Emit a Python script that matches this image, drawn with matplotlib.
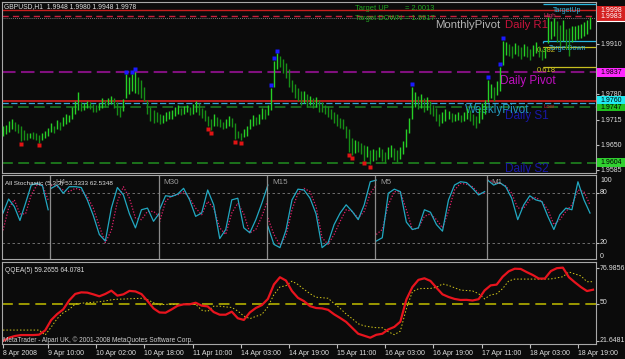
import numpy as np
import matplotlib
matplotlib.use('Agg')
import matplotlib.pyplot as plt
import matplotlib.transforms as mtransforms
from matplotlib.patches import Rectangle

plt.rcParams['font.family'] = ['Liberation Sans', 'DejaVu Sans']

W, H = 625, 359
BG = '#0b0b0b'

# ---- GBPUSD H1 bars (high / low), 8 Apr 19:00 .. 18 Apr 21:00 ----
high = [1.9700, 1.9702, 1.9712, 1.9716, 1.9708, 1.9704, 1.9700, 1.9688, 1.9680, 1.9682,
        1.9684, 1.9680, 1.9676, 1.9682, 1.9686, 1.9694, 1.9706, 1.9700, 1.9714, 1.9708,
        1.9722, 1.9730, 1.9726, 1.9748, 1.9762, 1.9786, 1.9760, 1.9758, 1.9764, 1.9760,
        1.9756, 1.9752, 1.9758, 1.9770, 1.9766, 1.9772, 1.9776, 1.9770, 1.9760, 1.9750,
        1.9768, 1.9832, 1.9824, 1.9832, 1.9838, 1.9824, 1.9818, 1.9800, 1.9766, 1.9748,
        1.9740, 1.9736, 1.9730, 1.9728, 1.9734, 1.9738, 1.9740, 1.9748, 1.9752, 1.9746,
        1.9750, 1.9754, 1.9748, 1.9756, 1.9762, 1.9758, 1.9746, 1.9740, 1.9724, 1.9716,
        1.9730, 1.9722, 1.9718, 1.9710, 1.9718, 1.9724, 1.9720, 1.9706, 1.9686, 1.9680,
        1.9690, 1.9700, 1.9716, 1.9726, 1.9722, 1.9730, 1.9746, 1.9742, 1.9752, 1.9796,
        1.9866, 1.9886, 1.9878, 1.9872, 1.9862, 1.9846, 1.9818, 1.9806, 1.9796, 1.9788,
        1.9790, 1.9780, 1.9776, 1.9770, 1.9774, 1.9766, 1.9760, 1.9754, 1.9750, 1.9742,
        1.9736, 1.9730, 1.9720, 1.9716, 1.9700, 1.9690, 1.9668, 1.9664, 1.9660, 1.9656,
        1.9650, 1.9648, 1.9636, 1.9640, 1.9636, 1.9646, 1.9640, 1.9632, 1.9644, 1.9650,
        1.9642, 1.9636, 1.9646, 1.9660, 1.9690, 1.9720, 1.9800, 1.9786, 1.9776, 1.9782,
        1.9770, 1.9774, 1.9762, 1.9752, 1.9746, 1.9730, 1.9734, 1.9742, 1.9738, 1.9732,
        1.9730, 1.9734, 1.9728, 1.9736, 1.9744, 1.9740, 1.9730, 1.9724, 1.9744, 1.9758,
        1.9766, 1.9818, 1.9808, 1.9800, 1.9814, 1.9852, 1.9918, 1.9916, 1.9910, 1.9906,
        1.9912, 1.9908, 1.9902, 1.9910, 1.9904, 1.9898, 1.9908, 1.9914, 1.9904, 1.9896,
        1.9902, 1.9980, 1.9970, 1.9976, 1.9968, 1.9960, 1.9972, 1.9948, 1.9950, 1.9956,
        1.9956, 1.9958, 1.9962, 1.9966, 1.9972, 1.9980]
low = [1.9672, 1.9678, 1.9684, 1.9690, 1.9685, 1.9680, 1.9660, 1.9664, 1.9664, 1.9668,
       1.9666, 1.9662, 1.9656, 1.9664, 1.9668, 1.9672, 1.9684, 1.9680, 1.9690, 1.9688,
       1.9698, 1.9704, 1.9708, 1.9718, 1.9730, 1.9740, 1.9738, 1.9740, 1.9744, 1.9742,
       1.9736, 1.9734, 1.9740, 1.9746, 1.9748, 1.9752, 1.9756, 1.9744, 1.9728, 1.9722,
       1.9738, 1.9772, 1.9780, 1.9790, 1.9784, 1.9780, 1.9770, 1.9764, 1.9730, 1.9712,
       1.9706, 1.9708, 1.9704, 1.9706, 1.9712, 1.9716, 1.9718, 1.9724, 1.9730, 1.9728,
       1.9730, 1.9734, 1.9726, 1.9730, 1.9736, 1.9728, 1.9720, 1.9712, 1.9698, 1.9688,
       1.9700, 1.9700, 1.9696, 1.9690, 1.9694, 1.9700, 1.9696, 1.9666, 1.9668, 1.9662,
       1.9670, 1.9672, 1.9692, 1.9700, 1.9702, 1.9704, 1.9716, 1.9718, 1.9726, 1.9740,
       1.9800, 1.9846, 1.9850, 1.9836, 1.9822, 1.9800, 1.9786, 1.9772, 1.9764, 1.9754,
       1.9758, 1.9748, 1.9752, 1.9744, 1.9748, 1.9736, 1.9734, 1.9730, 1.9722, 1.9716,
       1.9706, 1.9700, 1.9694, 1.9690, 1.9668, 1.9632, 1.9624, 1.9630, 1.9632, 1.9626,
       1.9610, 1.9618, 1.9600, 1.9610, 1.9612, 1.9618, 1.9608, 1.9604, 1.9614, 1.9620,
       1.9612, 1.9606, 1.9614, 1.9628, 1.9646, 1.9680, 1.9716, 1.9748, 1.9742, 1.9746,
       1.9736, 1.9740, 1.9730, 1.9724, 1.9712, 1.9700, 1.9706, 1.9712, 1.9716, 1.9710,
       1.9712, 1.9714, 1.9710, 1.9712, 1.9716, 1.9712, 1.9702, 1.9694, 1.9706, 1.9718,
       1.9730, 1.9760, 1.9770, 1.9764, 1.9778, 1.9790, 1.9856, 1.9882, 1.9878, 1.9874,
       1.9884, 1.9880, 1.9872, 1.9880, 1.9876, 1.9870, 1.9878, 1.9886, 1.9876, 1.9868,
       1.9874, 1.9912, 1.9924, 1.9930, 1.9916, 1.9904, 1.9918, 1.9896, 1.9880, 1.9916,
       1.9920, 1.9922, 1.9926, 1.9930, 1.9936, 1.9948]
fractal_up = [41, 43, 44, 89, 90, 91, 136, 161, 165, 166]
fractal_dn = [6, 12, 68, 69, 77, 79, 115, 116, 120, 122]

# levels
target_up, target_down = 2.0013, 1.9917
month_line, day_high, bid = 1.9998, 1.9983, 1.9978
fib382, fib618 = 1.9903, 1.9852
daily_pivot = 1.9837
red_level, weekly_pivot, green_level = 1.9762, 1.9758, 1.9748
daily_s2 = 1.9604

time_tick_bars = [0, 15, 31, 47, 63, 79, 95, 111, 127, 143, 159, 175, 191]
time_labels = ['8 Apr 2008', '9 Apr 10:00', '10 Apr 02:00', '10 Apr 18:00', '11 Apr 10:00',
               '14 Apr 03:00', '14 Apr 19:00', '15 Apr 11:00', '16 Apr 03:00', '16 Apr 19:00',
               '17 Apr 11:00', '18 Apr 03:00', '18 Apr 19:00']

# ---- All Stochastic, one window per timeframe ----
stoch_spans = [(0, 15), (16, 52), (52, 88), (88, 124), (124, 160), (161, 195)]
stoch_names = ['', 'H4', 'M30', 'M15', 'M5', 'M1']
stoch_main = [
    [56, 73, 64, 47, 68, 90, 92, 89, 60],
    [86, 90, 80, 88, 88, 87, 72, 53, 30, 22, 62, 87, 78, 55, 38, 60, 62, 46, 56],
    [60, 77, 76, 79, 86, 72, 52, 56, 84, 66, 25, 36, 72, 74, 38, 32, 48, 68, 90],
    [40, 18, 14, 35, 72, 85, 84, 74, 55, 14, 20, 42, 56, 66, 58, 48, 66, 94, 96],
    [22, 26, 80, 85, 82, 45, 36, 38, 60, 57, 42, 34, 72, 90, 94, 93, 86, 78, 82],
    [96, 90, 93, 88, 74, 48, 66, 77, 72, 70, 52, 36, 54, 62, 60, 94, 72, 56],
]
stoch_signal = [
    [35, 62, 72, 55, 55, 78, 90, 90, 72],
    [90, 88, 84, 82, 86, 84, 76, 62, 40, 20, 35, 70, 88, 74, 50, 48, 58, 58, 52],
    [45, 70, 77, 78, 82, 74, 62, 54, 70, 62, 38, 30, 56, 68, 55, 32, 36, 52, 72],
    [50, 30, 17, 28, 60, 80, 86, 82, 64, 26, 18, 30, 46, 60, 58, 50, 58, 80, 90],
    [30, 36, 66, 82, 82, 60, 36, 38, 52, 55, 48, 38, 58, 84, 92, 91, 88, 80, 80],
    [96, 94, 92, 89, 80, 62, 62, 72, 75, 70, 60, 42, 48, 58, 66, 84, 82, 66],
]

# ---- QQEA(5), every second bar ----
qqe_rsi = [21.5, 24, 25.3, 26, 26, 26, 26.3, 29.5, 37.4, 42,
           45.5, 52.4, 57.3, 58.5, 58.3, 57, 55.5, 57.3, 59.8, 56,
           57, 59.6, 59.2, 57.2, 52, 46.3, 43.2, 43, 45.5, 48.3,
           49.4, 49.4, 50.6, 48.4, 47.8, 43.5, 41.5, 41.5, 43.8, 38.8,
           37.5, 43.2, 46.6, 48.8, 53.5, 64.5, 70, 67.5, 59.5, 54.3,
           51.8, 48, 46.6, 46.3, 45.2, 41.8, 39, 36, 31.5, 27,
           25.5, 24, 26.2, 27, 30.3, 32.2, 36.2, 53, 62.5, 68,
           69.2, 67.2, 62, 57, 55, 53.5, 52.7, 52.8, 52.3, 53.3,
           60, 63.8, 64.4, 70.4, 74.5, 76.5, 76.3, 73.9, 71.7, 69,
           69, 74.7, 76.9, 77.3, 70, 66.1, 62.5, 59.5, 60.5]
qqe_trail = [29.8, 29.8, 29.8, 29.8, 29.8, 29.8, 29.8, 26, 32, 38.5,
             43, 45.5, 49.6, 50.2, 50.6, 51, 51.3, 52, 52.8, 53.3,
             53.4, 53.6, 53.8, 54, 53, 50.6, 49, 49.4, 49.4, 49.4,
             49.4, 49.4, 49.4, 45, 44, 48, 48, 47.4, 47, 44.3,
             40.5, 38.5, 40.2, 41.7, 47.5, 56.8, 62.6, 63.6, 67, 64.5,
             60.8, 57.5, 54.8, 54.4, 54, 50, 46.3, 42, 38.5, 34.6,
             33, 32.2, 31.6, 31.6, 28.5, 26.3, 29, 46, 59, 61.2,
             61.5, 61.5, 62.3, 64.9, 63.8, 62, 60.2, 59.9, 59.6, 57.5,
             53.5, 56.6, 57.4, 61.4, 67.2, 68.6, 68.6, 68.6, 68.6, 68.6,
             68.6, 68.7, 69.5, 70.4, 74, 72.5, 71, 66.6, 66.6]

fig = plt.figure(figsize=(6.25, 3.59), dpi=100, facecolor=BG)


def box(x0, y0, x1, y1):
    return [x0 / W, 1 - y1 / H, (x1 - x0) / W, (y1 - y0) / H]


def ftext(x, y, s, ax=None, **kw):
    kw.setdefault('va', 'center')
    kw.setdefault('fontsize', 5)
    kw.setdefault('color', '#e0e0e0')
    if ax is None:
        return fig.text(x / W, 1 - y / H, s, **kw)
    return ax.text(x / W, 1 - y / H, s, transform=fig.transFigure, clip_on=True, **kw)


def price_box(y0, y1, s, fc, tc='black'):
    fig.patches.append(Rectangle((597 / W, 1 - y1 / H), 28 / W, (y1 - y0) / H,
                                 transform=fig.transFigure, fc=fc, ec='none'))
    ftext(600, (y0 + y1) / 2, s, color=tc)


def panel(y0, y1):
    ax = fig.add_axes(box(2, y0, 596, y1))
    ax.set_facecolor(BG)
    ax.set_xlim(-0.33, 197.0)
    ax.set_xticks([])
    ax.set_yticks([])
    for s in ax.spines.values():
        s.set_color('#a8a8a8')
        s.set_linewidth(0.8)
    return ax


# ================= main price window =================
ax = panel(2, 173)
ax.set_ylim(1.9578, 2.0018)
hi = np.array(high)
lo = np.array(low)
bars = np.arange(len(hi))
mid = (hi + lo) / 2
up = np.r_[True, np.diff(mid) >= 0]
ax.vlines(bars[up], lo[up], hi[up], color='#26d026', lw=1.0, zorder=4)
ax.vlines(bars[~up], lo[~up], hi[~up], color='#178f17', lw=1.0, zorder=4)

below = mtransforms.offset_copy(ax.transData, fig=fig, y=-2.0, units='points')
above = mtransforms.offset_copy(ax.transData, fig=fig, y=2.0, units='points')
ax.plot(bars[fractal_dn], lo[fractal_dn], 's', ms=2.3, color='#e01414', mec='none',
        transform=below, zorder=5)
ax.plot(bars[fractal_up], hi[fractal_up], 's', ms=2.3, color='#1a1aff', mec='none',
        transform=above, zorder=5)

ax.axhline(month_line, color='#c81e1e', lw=1.0, zorder=2)
ax.axhline(day_high, color='#c8203c', lw=1.0, ls=(0, (4.5, 3)), zorder=2)
ax.axhline(bid, color='#9a9a9a', lw=0.6, ls=(0, (1, 1.5)), zorder=2)
ax.axhline(daily_pivot, color='#80107e', lw=1.5, ls=(0, (6.5, 2.6)), zorder=2)
ax.axhline(red_level, color='#e82020', lw=1.1, zorder=2)
ax.axhline(weekly_pivot, color='#38a8d8', lw=0.9, ls=(0, (5, 2)), zorder=2)
ax.axhline(green_level, color='#1f7f1f', lw=1.1, ls=(0, (7, 3.5)), zorder=2)
ax.axhline(daily_s2, color='#1d7a1d', lw=1.3, ls=(0, (6, 3)), zorder=2)
ax.hlines(target_up, 179.5, 197, color='#28b8e0', lw=0.9, zorder=2)
ax.hlines(target_down, 179.5, 197, color='#28b8e0', lw=0.9, zorder=2)
ax.vlines(179.5, target_down - 0.0004, target_down, color='#28b8e0', lw=0.9, zorder=2)
ax.hlines(fib382, 179.5, 197, color='#c8c020', lw=0.9, zorder=2)
ax.hlines(fib618, 179.5, 197, color='#c8c020', lw=0.9, zorder=2)

ftext(4, 7, 'GBPUSD,H1  1.9948 1.9980 1.9948 1.9978', ax=ax, fontsize=4.9, zorder=6)
ftext(355, 8, 'Target UP', ax=ax, fontsize=5.4, color='#22a822', zorder=6)
ftext(405, 8, '= 2.0013', ax=ax, fontsize=5.4, color='#22a822', zorder=6)
ftext(355, 18, 'Target DOWN', ax=ax, fontsize=5.4, color='#22a822', zorder=6)
ftext(405, 18, '= 1.9917', ax=ax, fontsize=5.4, color='#22a822', zorder=6)
ftext(435, 25, 'MonthlyPivot', ax=ax, fontsize=8.2, color='#b4b4b4', zorder=3)
ftext(505, 25, 'Daily R1', ax=ax, fontsize=8.2, color='#c8143c', zorder=3)
ftext(543, 15, 'High', ax=ax, fontsize=4.4, color='#c83060', zorder=3)
ftext(553, 10, 'TargetUp', ax=ax, fontsize=5, color='#30b8e0', zorder=3)
ftext(549, 48, 'TargetDown', ax=ax, fontsize=5, color='#30b8e0', zorder=3)
ftext(537, 51, '0.382', ax=ax, fontsize=5.5, color='#c8c020', zorder=3)
ftext(537, 71, '0.618', ax=ax, fontsize=5.5, color='#c8c020', zorder=3)
ftext(500, 81, 'Daily Pivot', ax=ax, fontsize=8.5, color='#c010c0', zorder=3)
ftext(505, 116, 'Daily S1', ax=ax, fontsize=8.5, color='#1818a8', zorder=3)
ftext(465, 110, 'WeeklyPivot', ax=ax, fontsize=8.5, color='#2398bc', zorder=3)
ftext(543, 107, 'Low', ax=ax, fontsize=4.4, color='#c82030', zorder=3)
ftext(505, 169, 'Daily S2', ax=ax, fontsize=8.5, color='#1818a8', zorder=3)

ax.yaxis.set_ticks_position('right')
ax.set_yticks([1.9910, 1.9780, 1.9715, 1.9650, 1.9585])
ax.tick_params(axis='y', length=2.5, color='#c0c0c0', labelright=False)
for y, s in [(44, '1.9910'), (95, '1.9780'), (120, '1.9715'), (145.5, '1.9650'), (170.5, '1.9585')]:
    ftext(600, y, s)
price_box(6, 21, '', '#d42020')
ftext(600, 10, '1.9998', color='#ffffff')
ftext(600, 16, '1.9983', color='#ffffff')
fig.add_artist(plt.Line2D([597 / W, 1], [1 - 21 / H] * 2, color='white', lw=0.8))
price_box(68, 77, '1.9837', '#ff28ff')
price_box(104, 111, '1.9747', '#20c020')
price_box(96, 104, '1.9760', '#20eaf2')
price_box(158, 167, '1.9604', '#30d030')

# ================= All Stochastic =================
ax2 = panel(175, 259)
ax2.set_ylim(0.2, 102.2)
ax2.axhline(80, color='#7c7c7c', lw=0.6, ls=(0, (3, 3)))
ax2.axhline(20, color='#7c7c7c', lw=0.6, ls=(0, (3, 3)))
for (a, b), m, s in zip(stoch_spans, stoch_main, stoch_signal):
    ax2.plot(np.linspace(a, b, len(s)), s, color='#e0206a', lw=0.9, ls=(0, (1, 1.4)))
    ax2.plot(np.linspace(a, b, len(m)), m, color='#22a8c2', lw=0.9)
for (a, b) in stoch_spans[1:]:
    ax2.axvline(a - 0.3, color='#8c8c8c', lw=0.9)
for (a, b), name in zip(stoch_spans, stoch_names):
    ftext(3 + 3.01 * a + 4, 182, name, fontsize=5.8, color='#9a9a9a')
ftext(5, 183, 'All Stochastic (5,3,3) 53.3333 62.5348', fontsize=4.6)
ax2.yaxis.set_ticks_position('right')
ax2.set_yticks([80, 20])
ax2.tick_params(axis='y', length=2.5, color='#c0c0c0', labelright=False)
for y, s in [(180, '100'), (193, '80'), (243, '20'), (256, '0')]:
    ftext(600, y, s)

# ================= QQEA =================
ax3 = panel(262, 344)
ax3.set_ylim(19.2, 81.6)
ax3.axhline(50, color='#b4b000', lw=1.2, ls=(0, (6.5, 3.5)))
qx = np.arange(len(qqe_rsi)) * 2
ax3.plot(qx, qqe_trail, color='#d4c81a', lw=0.7, ls=(0, (1.5, 2)))
ax3.plot(qx, qqe_rsi, color='#e8141e', lw=1.6)
ftext(5, 270, 'QQEA(5) 59.2655 64.0781', fontsize=4.8)
ftext(3, 340, 'MetaTrader - Alpari UK, \u00a9 2001-2008 MetaQuotes Software Corp.',
      fontsize=4.7, color='#d0d0d0')
ax3.yaxis.set_ticks_position('right')
ax3.set_yticks([76.9856, 50, 21.6481])
ax3.tick_params(axis='y', length=2.5, color='#c0c0c0', labelright=False)
for y, s in [(268, '76.9856'), (303, '50'), (341, '21.6481')]:
    ftext(600, y, s)

ax3.set_xticks(time_tick_bars)
ax3.set_xticklabels(time_labels, ha='left', fontsize=5, color='#e0e0e0')
ax3.tick_params(axis='x', length=3, color='#c0c0c0', pad=1.5)

fig.savefig('out.png', dpi=100, facecolor=BG)
